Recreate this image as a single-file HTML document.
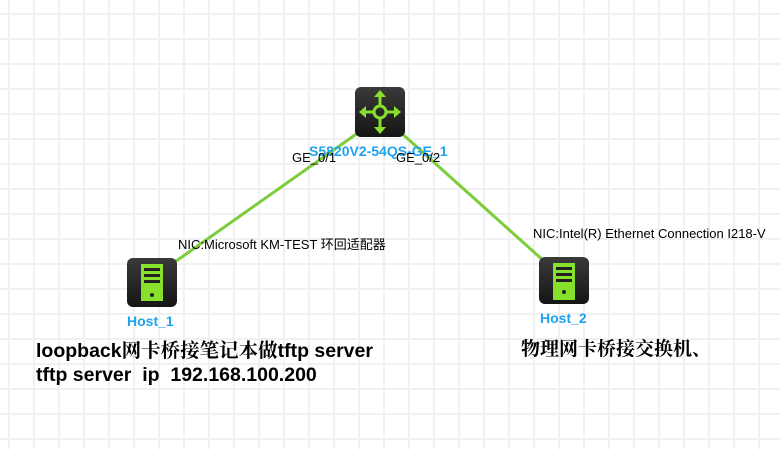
<!DOCTYPE html>
<html><head><meta charset="utf-8"><style>
html,body{margin:0;padding:0;}
body{width:780px;height:449px;overflow:hidden;background:#fff;position:relative;font-family:"Liberation Sans","Noto Sans CJK SC",sans-serif;}
.grid{position:absolute;left:0;top:0;width:780px;height:449px;
background-image:linear-gradient(to right,#f1f1f1 2px,transparent 2px),linear-gradient(to bottom,#f1f1f1 2px,transparent 2px);
background-size:25px 25px;background-position:8px 13px;}
.t{position:absolute;white-space:nowrap;}
</style></head><body>
<div class="grid"></div>
<svg width="780" height="449" style="position:absolute;left:0;top:0">
<defs>
<linearGradient id="g" x1="0" y1="0" x2="0" y2="1"><stop offset="0" stop-color="#3a3a3a"/><stop offset="1" stop-color="#151515"/></linearGradient>
</defs>
<line x1="362" y1="130" x2="172" y2="264" stroke="#7ccc3c" stroke-width="3"/>
<line x1="398" y1="130" x2="545" y2="262" stroke="#7ccc3c" stroke-width="3"/>
<rect x="355" y="87" width="50" height="50" rx="6" fill="url(#g)"/>
<g stroke="#86e02c" stroke-width="3" fill="none" stroke-linecap="round">
<circle cx="380" cy="112" r="6"/>
<line x1="380" y1="106" x2="380" y2="94"/><line x1="380" y1="118" x2="380" y2="130"/>
<line x1="374" y1="112" x2="362" y2="112"/><line x1="386" y1="112" x2="398" y2="112"/>
</g>
<g fill="#86e02c">
<polygon points="380,90 374,97 386,97"/><polygon points="380,134 374,127 386,127"/>
<polygon points="359,112 366,106 366,118"/><polygon points="401,112 394,106 394,118"/>
</g>
<rect x="127" y="258" width="50" height="49" rx="6" fill="url(#g)"/>
<rect x="141" y="264" width="22" height="37" fill="#86e02c"/>
<rect x="144" y="268" width="16" height="3" fill="#222"/><rect x="144" y="274" width="16" height="3" fill="#222"/><rect x="144" y="280" width="16" height="3" fill="#222"/>
<circle cx="152" cy="295" r="2" fill="#222"/>
<rect x="539" y="257" width="50" height="47" rx="6" fill="url(#g)"/>
<rect x="553" y="263" width="22" height="37" fill="#86e02c"/>
<rect x="556" y="267" width="16" height="3" fill="#222"/><rect x="556" y="273" width="16" height="3" fill="#222"/><rect x="556" y="279" width="16" height="3" fill="#222"/>
<circle cx="564" cy="292" r="2" fill="#222"/>
</svg>
<div class="t" style="left:309px;top:143px;font-size:14px;font-weight:bold;color:#1ea3f0;">S5820V2-54QS-GE_1</div>
<div class="t" style="left:292px;top:150px;font-size:13px;color:#000;">GE_0/1</div>
<div class="t" style="left:396px;top:150px;font-size:13px;color:#000;">GE_0/2</div>
<div class="t" style="left:178px;top:234px;font-size:13px;color:#000;">NIC:Microsoft KM-TEST 环回适配器</div>
<div class="t" style="left:533px;top:226px;font-size:13px;color:#000;">NIC:Intel(R) Ethernet Connection I218-V</div>
<div class="t" style="left:127px;top:313px;font-size:14px;font-weight:bold;color:#1ea3f0;">Host_1</div>
<div class="t" style="left:540px;top:310px;font-size:14px;font-weight:bold;color:#1ea3f0;">Host_2</div>
<div class="t" style="left:36px;top:339px;font-size:19.5px;font-weight:bold;color:#000;line-height:24px;font-family:'Liberation Sans','Noto Serif CJK SC',serif;">loopback网卡桥接笔记本做tftp server<br>tftp server&nbsp; ip&nbsp; 192.168.100.200</div>
<div class="t" style="left:521px;top:334px;font-size:19px;font-weight:bold;color:#000;font-family:'Liberation Sans','Noto Serif CJK SC',serif;">物理网卡桥接交换机、</div>
</body></html>
